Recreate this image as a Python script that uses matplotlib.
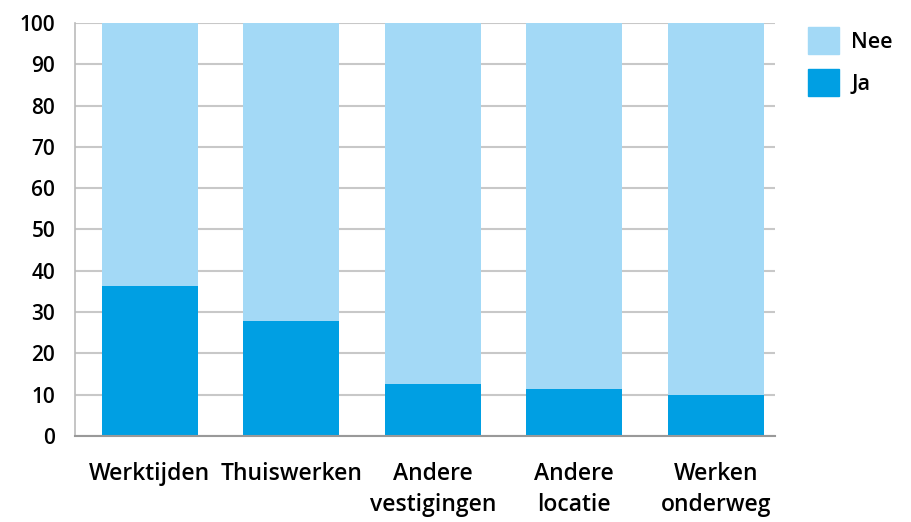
import numpy as np
import matplotlib.pyplot as plt
from matplotlib.patches import Patch

categories = ["Werktijden", "Thuiswerken", "Andere\nvestigingen", "Andere\nlocatie", "Werken\nonderweg"]
ja = [36.2, 27.7, 12.6, 11.4, 9.8]
nee = [100 - v for v in ja]
yticks = [0, 10, 20, 30, 40, 50, 60, 70, 80, 90, 100]

plt.rcParams['font.family'] = ['Open Sans', 'DejaVu Sans']

light = "#a3d9f6"
dark = "#009fe3"

fig = plt.figure(figsize=(9.12, 5.22), dpi=100)
ax = fig.add_axes([0.082, 0.165, 0.768, 0.791])

x = np.arange(len(categories))
ax.bar(x, ja, width=0.68, color=dark, zorder=2)
ax.bar(x, nee, bottom=ja, width=0.68, color=light, zorder=2)

ax.set_ylim(0, 100)
ax.set_xlim(-0.53, 4.42)
ax.set_yticks(yticks)
ax.set_yticklabels([str(t) for t in yticks], fontsize=15, fontweight="semibold")
ax.set_xticks(x)
ax.set_xticklabels(categories, fontsize=16.5, fontweight="semibold", linespacing=1.35,
                   va="top")
ax.tick_params(axis="y", length=0, pad=14)
ax.tick_params(axis="x", length=0, pad=19)

ax.grid(axis="y", color="#c8c8c8", linewidth=1.5, zorder=0)
for s in ["top", "right"]:
    ax.spines[s].set_visible(False)
ax.spines["left"].set_color("#bbbbbb")
ax.spines["bottom"].set_color("#999999")
ax.spines["left"].set_linewidth(1.2)
ax.spines["bottom"].set_linewidth(1.5)

handles = [Patch(color=light, label="Nee"), Patch(color=dark, label="Ja")]
fig.legend(handles=handles, loc="upper left", bbox_to_anchor=(0.865, 0.985),
           frameon=False, prop={"size": 15.5, "weight": "semibold"},
           handlelength=1.45, handleheight=1.55, labelspacing=0.7, handletextpad=0.55)

fig.savefig("out.png", dpi=100)
